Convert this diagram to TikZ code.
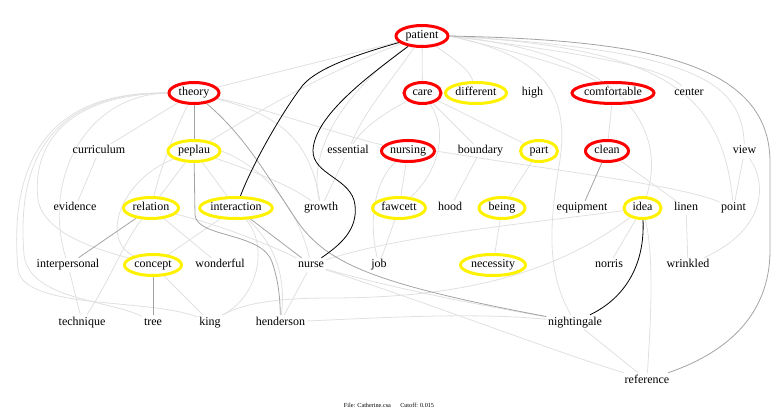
\documentclass[tikz,border=0pt]{standalone}
\usepackage{fontspec}
\setmainfont{Liberation Serif}
\usetikzlibrary{shapes.geometric}
\pgfdeclarelayer{bg}
\pgfsetlayers{bg,main}
\begin{document}
\begin{tikzpicture}[x=1pt,y=-1pt,
  every node/.style={font=\fontsize{12}{14}\selectfont, inner sep=1.5pt, text height=8.5pt, text depth=2.5pt},
  ov/.style={ellipse, draw, line width=3pt, inner sep=0pt, minimum height=21pt},
  redov/.style={ov, draw=red},
  yelov/.style={ov, draw=yellow},
  strong/.style={draw=black, line width=0.8pt},
  midc/.style={draw=black!36, line width=0.8pt},
  faint/.style={draw=black!12, line width=0.8pt},
]
\useasboundingbox (0,0) rectangle (780,417);
% nodes
\node[redov, minimum width=52pt] (patient) at (422,36) {patient};
\node[redov, minimum width=50pt] (theory) at (194,93) {theory};
\node[redov, minimum width=37pt] (care) at (422.5,93) {care};
\node[yelov, minimum width=61pt] (different) at (476,93) {different};
\node (high) at (532.5,93) {high};
\node[redov, minimum width=76pt] (comfortable) at (613,93) {comfortable};
\node (center) at (689,93) {center};
\node (curriculum) at (99,151) {curriculum};
\node[yelov, minimum width=52pt] (peplau) at (194,151) {peplau};
\node (essential) at (348,151) {essential};
\node[redov, minimum width=53pt] (nursing) at (408,151) {nursing};
\node (boundary) at (480.5,151) {boundary};
\node[yelov, minimum width=37pt] (part) at (539,151) {part};
\node[redov, minimum width=43pt] (clean) at (607,151) {clean};
\node (view) at (744.5,151) {view};
\node (evidence) at (75,208) {evidence};
\node[yelov, minimum width=55pt] (relation) at (151,208) {relation};
\node[yelov, minimum width=71pt] (interaction) at (236,208) {interaction};
\node (growth) at (321,208) {growth};
\node[yelov, minimum width=53pt] (fawcett) at (399,208) {fawcett};
\node (hood) at (450,208) {hood};
\node[yelov, minimum width=46pt] (being) at (502,208) {being};
\node (equipment) at (582,208) {equipment};
\node[yelov, minimum width=37pt] (idea) at (642.5,208) {idea};
\node (linen) at (686,208) {linen};
\node (point) at (733.5,208) {point};
\node (interpersonal) at (68,265) {interpersonal};
\node[yelov, minimum width=57pt] (concept) at (153,265) {concept};
\node (wonderful) at (220,265) {wonderful};
\node (nurse) at (311,265) {nurse};
\node (job) at (379,265) {job};
\node[yelov, minimum width=65pt] (necessity) at (493,265) {necessity};
\node (norris) at (609,265) {norris};
\node (wrinkled) at (688,265) {wrinkled};
\node (technique) at (82,322) {technique};
\node (tree) at (153,322) {tree};
\node (king) at (210,322) {king};
\node (henderson) at (280.5,322) {henderson};
\node (nightingale) at (575,322) {nightingale};
\node (reference) at (647,380) {reference};
\node[font=\fontsize{6.2}{7}\selectfont, text height=4.5pt, text depth=1pt] (caption) at (389,406) {File: Catherine.csa\quad\ \ Cutoff: 0.015};
\begin{pgfonlayer}{bg}
% faint edges from patient
\path[faint] (patient) -- (theory);
\path[faint] (patient) -- (care);
\path[faint] (patient) .. controls (455,60) and (470,70) .. (different);
\path[faint] (patient) .. controls (330,70) and (260,110) .. (peplau);
\path[faint] (patient) .. controls (392,80) and (365,110) .. (essential);
\path[faint] (patient) .. controls (360,80) and (305,140) .. (growth);
\path[faint] (patient.east) .. controls (530,55) and (580,70) .. (comfortable);
\path[faint] (patient.east) .. controls (570,52) and (660,65) .. (center);
\path[faint] (patient.east) .. controls (640,55) and (665,140) .. (idea);
\path[faint] (patient.east) .. controls (660,48) and (722,90) .. (point);
\path[faint] (patient.east) .. controls (690,50) and (742,80) .. (view);
\path[faint] (patient.east) .. controls (540,55) and (570,90) .. (560,160) .. controls (550,220) and (545,270) .. (nightingale);
% theory
\path[faint] (theory) -- (curriculum);
\path[faint] (theory) .. controls (175,130) and (160,170) .. (relation);
\path[faint] (theory) .. controls (280,115) and (310,140) .. (growth);
\path[faint] (theory) .. controls (270,110) and (340,135) .. (nursing);
\path[faint] (theory.west) .. controls (20,90) and (12,200) .. (18,270) .. controls (25,310) and (150,298) .. (king);
\path[faint] (theory.west) .. controls (35,92) and (18,180) .. (24,255) .. controls (30,300) and (110,300) .. (tree);
\path[faint] (theory.west) .. controls (60,95) and (32,150) .. (38,200) .. controls (45,235) and (100,250) .. (concept);
\path[faint] (theory.west) .. controls (85,95) and (42,180) .. (interpersonal);
% peplau
\path[faint] (peplau) -- (relation);
\path[faint] (peplau) -- (interaction);
\path[faint] (peplau) .. controls (250,170) and (290,185) .. (growth);
\path[faint] (peplau.east) .. controls (270,170) and (300,215) .. (nurse);
\path[faint] (peplau) .. controls (120,180) and (100,240) .. (concept);
% relation
\path[faint] (relation) -- (wonderful);
\path[faint] (relation) .. controls (125,240) and (110,280) .. (technique);
\path[faint] (relation) .. controls (220,225) and (270,245) .. (nurse);
% interaction
\path[faint] (interaction) -- (concept);
\path[faint] (interaction) .. controls (270,240) and (287,270) .. (henderson);
\path[faint] (king) .. controls (260,295) and (268,245) .. (interaction);
% misc
\path[faint] (concept) -- (king);
\path[faint] (interpersonal) -- (technique);
\path[faint] (curriculum) -- (evidence);
\path[faint] (essential) -- (growth);
\path[faint] (nursing) -- (fawcett);
\path[faint] (nursing) .. controls (375,180) and (368,220) .. (job);
\path[faint] (nursing.east) .. controls (550,170) and (680,185) .. (point);
\path[faint] (fawcett) -- (job);
\path[faint] (care) -- (part);
\path[faint] (care) -- (boundary);
\path[faint] (care) .. controls (448,130) and (440,170) .. (fawcett);
\path[faint] (care) .. controls (390,110) and (365,125) .. (essential);
\path[faint] (boundary) -- (hood);
\path[faint] (part) -- (being);
\path[faint] (being) -- (necessity);
\path[faint] (comfortable) -- (clean);
\path[faint] (clean) -- (linen);
\path[faint] (idea) -- (norris);
\path[faint] (idea) .. controls (655,260) and (650,330) .. (reference);
\path[faint] (linen) -- (wrinkled);
\path[faint] (view) -- (point);
\path[faint] (view) .. controls (768,185) and (765,230) .. (wrinkled);
\path[faint] (nightingale) -- (reference);
\path[faint] (nurse) .. controls (420,300) and (550,350) .. (reference);
\path[faint] (nurse) .. controls (400,290) and (480,305) .. (nightingale);
\path[faint] (henderson) .. controls (380,318) and (470,312) .. (nightingale);
\path[faint] (henderson) -- (nurse);
\path[faint] (idea) .. controls (540,222) and (400,235) .. (nurse);
\path[faint] (idea) .. controls (560,270) and (470,298) .. (330,298) .. controls (270,298) and (240,305) .. (king);
% mid grey edges
\path[midc] (theory) -- (peplau);
\path[midc] (theory) .. controls (250,140) and (275,190) .. (300,225) .. controls (330,265) and (380,285) .. (nightingale);
\path[midc] (peplau) -- (195,215) .. controls (197,238) and (262,232) .. (272,262) .. controls (279,282) and (280,300) .. (henderson);
\path[midc] (interaction) -- (nurse);
\path[midc] (relation) -- (interpersonal);
\path[midc] (concept) -- (tree);
\path[midc] (clean) -- (equipment);
\path[midc] (patient.east) .. controls (640,40) and (768,60) .. (770,160) -- (770,250) .. controls (770,320) and (720,355) .. (reference);
% strong edges
\path[strong] (patient) .. controls (355,55) and (318,68) .. (303,85) .. controls (282,112) and (252,165) .. (interaction);
\path[strong] (patient) .. controls (370,75) and (315,115) .. (313,150) .. controls (312,175) and (352,178) .. (355,205) .. controls (358,230) and (340,245) .. (nurse);
\path[strong] (idea) .. controls (645,265) and (625,298) .. (nightingale);
\end{pgfonlayer}
\end{tikzpicture}
\end{document}
